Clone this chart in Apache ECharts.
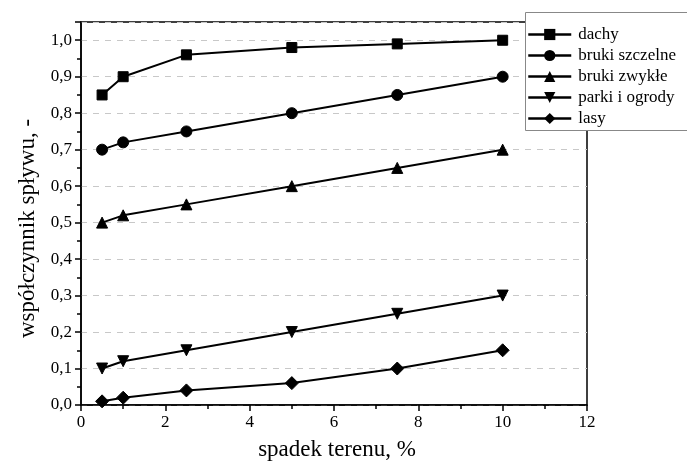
<!DOCTYPE html>
<html>
<head>
<meta charset="utf-8">
<script src="https://cdn.jsdelivr.net/npm/echarts@6/dist/echarts.min.js"></script>
<style>html,body{margin:0;padding:0;background:#fff;}#c{width:687px;height:461px;}</style>
</head>
<body>
<div id="c"></div>
<script>
const xValues = [0.5, 1, 2.5, 5, 7.5, 10];
const seriesNames = ['dachy', 'bruki szczelne', 'bruki zwykłe', 'parki i ogrody', 'lasy'];
const dachy = [0.85, 0.90, 0.96, 0.98, 0.99, 1.00];
const brukiSzczelne = [0.70, 0.72, 0.75, 0.80, 0.85, 0.90];
const brukiZwykle = [0.50, 0.52, 0.55, 0.60, 0.65, 0.70];
const parki = [0.10, 0.12, 0.15, 0.20, 0.25, 0.30];
const lasy = [0.01, 0.02, 0.04, 0.06, 0.10, 0.15];
const symbols = ['rect', 'circle', 'triangle', 'path://M0,0 L10,0 L5,10 Z', 'diamond'];
const symbolSizes = [10, 11, 11, 11, 13];
const values = [dachy, brukiSzczelne, brukiZwykle, parki, lasy];

const font = '"Liberation Serif", "Times New Roman", serif';
const chart = echarts.init(document.getElementById('c'), null, {renderer: 'canvas'});
chart.setOption({
  animation: false,
  backgroundColor: '#fff',
  grid: {left: 81, right: 100, top: 22, bottom: 56, show: true, borderColor: '#000', borderWidth: 1.5,
    backgroundColor: 'transparent', outerBoundsMode: 'none', containLabel: false},
  graphic: [{
    type: 'rect', left: 525, top: 12, z: 10,
    shape: {width: 170, height: 118},
    style: {fill: '#fff', stroke: '#888', lineWidth: 1}
  }],
  legend: {
    left: 527, top: 26, orient: 'vertical', padding: 0, itemGap: 4,
    itemWidth: 43, itemHeight: 14, z: 20,
    textStyle: {fontFamily: font, fontSize: 17, color: '#000', lineHeight: 14, padding: [0, 0, 0, 2]},
    lineStyle: {width: 2.5, color: '#000'},
    data: seriesNames
  },
  xAxis: {
    type: 'value', min: 0, max: 12, interval: 2,
    name: 'spadek terenu, %', nameLocation: 'middle', nameGap: 33,
    nameTextStyle: {fontFamily: font, fontSize: 23, color: '#000', padding: [0, 0, 0, 6]},
    axisLine: {lineStyle: {color: '#000', width: 1.5}},
    axisTick: {inside: false, length: 6, lineStyle: {color: '#000', width: 1.5}},
    minorTick: {show: true, splitNumber: 2, length: 4, lineStyle: {color: '#000', width: 1.5}},
    axisLabel: {fontFamily: font, fontSize: 17, color: '#000', margin: 9},
    splitLine: {show: false}
  },
  yAxis: {
    type: 'value', min: 0, max: 1.05, interval: 0.1,
    name: 'współczynnik spływu, -', nameLocation: 'middle', nameGap: 37,
    nameTextStyle: {fontFamily: font, fontSize: 23, color: '#000', padding: [0, 30, 0, 0]},
    axisLine: {lineStyle: {color: '#000', width: 1.5}},
    axisTick: {inside: false, length: 6, lineStyle: {color: '#000', width: 1.5}},
    minorTick: {show: true, splitNumber: 2, length: 4, lineStyle: {color: '#000', width: 1.5}},
    axisLabel: {fontFamily: font, fontSize: 17, color: '#000', margin: 9, showMaxLabel: false,
      formatter: v => v.toFixed(1).replace('.', ',')},
    splitLine: {show: true, lineStyle: {color: '#c8c8c8', type: [6, 6], width: 1}}
  },
  series: seriesNames.map((n, i) => ({
    name: n, type: 'line',
    data: xValues.map((x, j) => [x, values[i][j]]),
    symbol: symbols[i], symbolSize: symbolSizes[i],
    lineStyle: {color: '#000', width: 2},
    itemStyle: {color: '#000', borderColor: '#000'},
    z: 5
  }))
});
</script>
</body>
</html>
